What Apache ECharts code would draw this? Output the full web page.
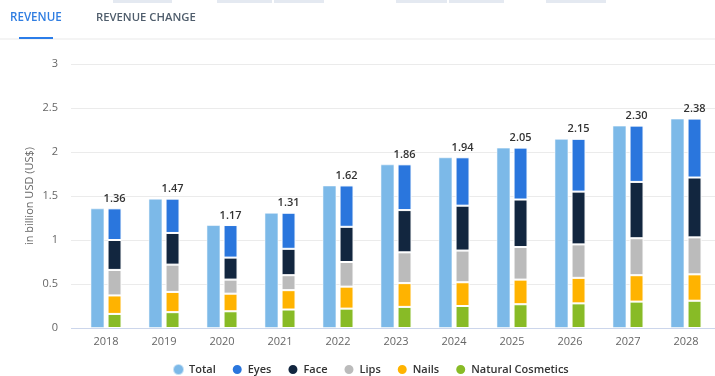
<!DOCTYPE html>
<html>
<head>
<meta charset="utf-8">
<script src="https://cdn.jsdelivr.net/npm/echarts@6/dist/echarts.min.js"></script>
<style>
  html, body { margin: 0; padding: 0; background: #fff; }
  #chart { width: 715px; height: 376px; }
</style>
</head>
<body>
<div id="chart"></div>
<script>
// Cosmetics revenue, in billion USD, 2018-2028
const years = ['2018', '2019', '2020', '2021', '2022', '2023', '2024', '2025', '2026', '2027', '2028'];
const total = [1.36, 1.47, 1.17, 1.31, 1.62, 1.86, 1.94, 2.05, 2.15, 2.30, 2.38];
const naturalCosmetics = [0.16, 0.18, 0.19, 0.21, 0.22, 0.24, 0.25, 0.27, 0.28, 0.30, 0.31];
const nails = [0.21, 0.23, 0.20, 0.22, 0.25, 0.27, 0.27, 0.28, 0.29, 0.30, 0.30];
const lips = [0.29, 0.31, 0.16, 0.17, 0.28, 0.35, 0.36, 0.37, 0.38, 0.42, 0.42];
const face = [0.34, 0.36, 0.25, 0.30, 0.40, 0.48, 0.51, 0.54, 0.60, 0.64, 0.68];
const eyes = [0.36, 0.39, 0.37, 0.41, 0.47, 0.52, 0.55, 0.59, 0.60, 0.64, 0.67];
const yTicks = { min: 0, max: 3, interval: 0.5 };

const FONT = '"Open Sans", "Noto Sans", sans-serif';
const colors = {
  total: '#7cb9e8',
  eyes: '#2a76dd',
  face: '#12263f',
  lips: '#bbbbbb',
  nails: '#ffb300',
  natural: '#88bb26'
};

const chart = echarts.init(document.getElementById('chart'), null, { renderer: 'canvas' });

function stackSeries(name, data, color, withLabel) {
  const s = {
    name: name,
    type: 'bar',
    stack: 'segments',
    barWidth: 14,
    barGap: '22%',
    data: data,
    itemStyle: { color: color, borderColor: '#ffffff', borderWidth: 1 },
    emphasis: { disabled: true }
  };
  if (withLabel) {
    s.label = {
      show: true,
      position: 'top',
      distance: 4,
      fontFamily: FONT,
      fontSize: 11,
      fontWeight: 600,
      color: '#333333',
      formatter: p => total[p.dataIndex].toFixed(2)
    };
  }
  return s;
}

// Header tabs and faint toolbar stubs along the top edge
const topStubs = [[113, 59], [217, 55], [274, 50], [396, 51], [449, 55], [546, 60]];
const graphic = topStubs.map(([x, w]) => ({
  type: 'rect', shape: { x: x, y: 0, width: w, height: 3 },
  style: { fill: '#e4e9f1' }, silent: true
}));
graphic.push(
  { type: 'rect', shape: { x: 0, y: 38, width: 715, height: 2 }, style: { fill: '#f4f4f4' }, silent: true },
  { type: 'rect', shape: { x: 19, y: 37, width: 34, height: 2 }, style: { fill: '#2b7de9' }, silent: true },
  { type: 'text', left: 10, top: 12, style: { text: 'REVENUE', fill: '#2f7de1', font: '600 11.6px ' + FONT } },
  { type: 'text', left: 96, top: 12, style: { text: 'REVENUE CHANGE', fill: '#4f5d6c', font: '600 11.3px ' + FONT } },
  // gridlines run a few pixels left of the plotting area
  ...[0, 0.5, 1, 1.5, 2, 2.5, 3].map(v => ({
    type: 'rect', shape: { x: 71, y: 328 - v * 88, width: 6, height: 1 },
    style: { fill: v === 0 ? '#ccd6eb' : '#ebebeb' }, silent: true
  }))
);

chart.setOption({
  animation: false,
  textStyle: { fontFamily: FONT },
  graphic: graphic,
  grid: { left: 77, right: 0, top: 64, bottom: 48, containLabel: false },
  legend: {
    left: 167,
    top: 358,
    icon: 'circle',
    itemWidth: 11,
    itemHeight: 11,
    itemGap: 15,
    textStyle: { fontFamily: FONT, fontSize: 11, fontWeight: 600, color: '#333333' },
    data: ['Total', 'Eyes', 'Face', 'Lips', 'Nails', 'Natural Cosmetics']
  },
  xAxis: {
    type: 'category',
    data: years,
    axisLine: { lineStyle: { color: '#ccd6eb' } },
    axisTick: { alignWithLabel: true, length: 6, lineStyle: { color: '#ccd6eb' } },
    axisLabel: { color: '#666666', fontSize: 11, margin: 8, fontFamily: FONT }
  },
  yAxis: {
    type: 'value',
    min: yTicks.min,
    max: yTicks.max,
    interval: yTicks.interval,
    name: 'in billion USD (US$)',
    nameLocation: 'middle',
    nameGap: 42,
    nameMoveOverlap: false,
    nameTextStyle: { color: '#666666', fontSize: 11, fontFamily: FONT },
    axisLine: { show: false },
    axisTick: { show: false },
    axisLabel: { color: '#666666', fontSize: 11, margin: 19, fontFamily: FONT },
    splitLine: { lineStyle: { color: '#ebebeb' } }
  },
  series: [
    {
      name: 'Total',
      type: 'bar',
      barWidth: 14,
      barGap: '22%',
      data: total,
      itemStyle: { color: colors.total, borderColor: 'rgba(255,255,255,0.55)', borderWidth: 1 },
      emphasis: { disabled: true }
    },
    stackSeries('Natural Cosmetics', naturalCosmetics, colors.natural, false),
    stackSeries('Nails', nails, colors.nails, false),
    stackSeries('Lips', lips, colors.lips, false),
    stackSeries('Face', face, colors.face, false),
    stackSeries('Eyes', eyes, colors.eyes, true)
  ]
});
</script>
</body>
</html>
